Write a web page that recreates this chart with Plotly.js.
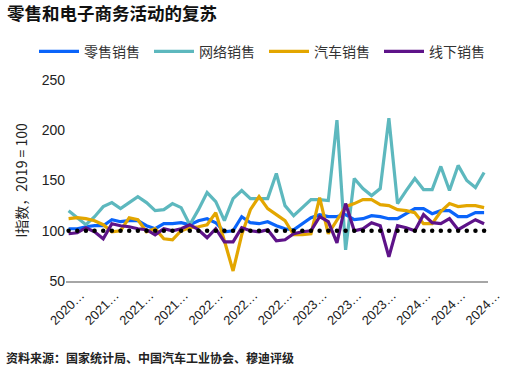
<!DOCTYPE html>
<html><head><meta charset="utf-8">
<script src="https://cdn.plot.ly/plotly-3.0.1.min.js"></script>
<style>html,body{margin:0;padding:0;background:#fff}#chart{width:507px;height:369px}</style>
</head><body><div id="chart"></div>
<script>
const months = ["2020-09","2020-10","2020-11","2020-12",
"2021-01","2021-02","2021-03","2021-04","2021-05","2021-06","2021-07","2021-08","2021-09","2021-10","2021-11","2021-12",
"2022-01","2022-02","2022-03","2022-04","2022-05","2022-06","2022-07","2022-08","2022-09","2022-10","2022-11","2022-12",
"2023-01","2023-02","2023-03","2023-04","2023-05","2023-06","2023-07","2023-08","2023-09","2023-10","2023-11","2023-12",
"2024-01","2024-02","2024-03","2024-04","2024-05","2024-06","2024-07","2024-08","2024-09"];

const retail = [102,102,104,105,105,111,109,110,110,105,102,107,107,108,106,110,112,108,99,100,114,108,107,109,105,102,101,107,113,116,114,114,116,111,112,115,114,112,112,117,122,122,117,120,120,114,114,118,118];
const online = [120,113,106,114,124,128,122,128,134,128,120,121,127,123,106,121,138,129,110,132,140,132,132,132,157,125,115,123,131,131,130,210,81,152,142,135,142,212,127,140,152,141,141,164,140,165,150,143,158];
const auto   = [112,113,112,110,106,99,100,113,111,99,102,92,91,100,103,104,106,118,90,60,96,121,134,122,116,110,96,96,97,133,97,110,124,127,131,131,126,125,121,120,118,107,107,119,127,124,125,125,123];
const offline= [97,98,103,99,92,107,105,104,102,101,96,102,100,102,106,101,93,102,89,89,103,100,99,101,90,91,97,99,100,114,109,88,127,100,102,108,105,74,105,103,100,116,108,107,112,101,106,111,107];
const baseline = [100,100,100,100,100,100,100,100,100,100,100,100,100,100,100,100,100,100,100,100,100,100,100,100,100,100,100,100,100,100,100,100,100,100,100,100,100,100,100,100,100,100,100,100,100,100,100,100,100];

const seriesNames = ["零售销售","网络销售","汽车销售","线下销售"];
const tickVals = ["2020-09","2021-01","2021-05","2021-09","2022-01","2022-05","2022-09","2023-01","2023-05","2023-09","2024-01","2024-05","2024-09"];
const tickText = ["2020…","2021…","2021…","2021…","2022…","2022…","2022…","2023…","2023…","2023…","2024…","2024…","2024…"];
const yTicks = [50,100,150,200,250];

const colors = ["#0A64FA","#5DB8BE","#E3A600","#5E1389"];
const FONT = "Liberation Sans, Arial, Noto Sans CJK SC, sans-serif";
const CJK = "Noto Sans CJK SC, sans-serif";

const traces = [retail, online, auto, offline].map((y, i) => ({
  x: months, y: y, type: "scatter", mode: "lines", name: seriesNames[i],
  line: {color: colors[i], width: 3.2}
}));
traces.push({x: months, y: baseline, type: "scatter", mode: "markers", showlegend: false,
  marker: {color: "#000", size: 4.5}, hoverinfo: "skip"});

const layout = {
  width: 507, height: 369,
  margin: {l: 66, r: 19, t: 80, b: 88},
  paper_bgcolor: "#fff", plot_bgcolor: "#fff",
  font: {family: FONT, color: "#222", size: 14},
  title: {text: "<b>零售和电子商务活动的复苏</b>", font: {family: CJK, size: 17.5, color: "#111"},
    xref: "container", yref: "container", x: 7/507, xanchor: "left", y: 1 - 14/369, yanchor: "middle"},
  showlegend: true,
  legend: {orientation: "h", x: -32/422, xanchor: "left", y: 1.14, yanchor: "middle",
    entrywidth: 60, entrywidthmode: "pixels",
    font: {family: CJK, size: 14, color: "#333"}, itemwidth: 40, tracegroupgap: 0},
  xaxis: {type: "category", range: [-0.3, 48.45], tickmode: "array", tickvals: tickVals, ticktext: tickText,
    tickangle: -45, ticks: "", showgrid: false, zeroline: false, showline: true, linecolor: "#A6A6A6", linewidth: 1.5,
    tickfont: {family: FONT, size: 13, color: "#222"}, ticklabelshift: 12},
  yaxis: {range: [50, 250], tickmode: "array", tickvals: yTicks, showgrid: false, zeroline: false, showline: false, ticks: "",
    tickfont: {family: FONT, size: 14, color: "#222"},
    title: {text: "I指数，2019 = 100", font: {family: CJK, size: 14, color: "#222"}, standoff: 10}},
  annotations: [{text: "<b>资料来源：国家统计局、中国汽车工业协会、穆迪评级</b>", xref: "paper", yref: "paper",
    x: -62/422, xanchor: "left", y: -76/201, yanchor: "middle", showarrow: false,
    font: {family: CJK, size: 12, color: "#222"}}]
};
Plotly.newPlot("chart", traces, layout, {staticPlot: true, displayModeBar: false});
</script></body></html>
